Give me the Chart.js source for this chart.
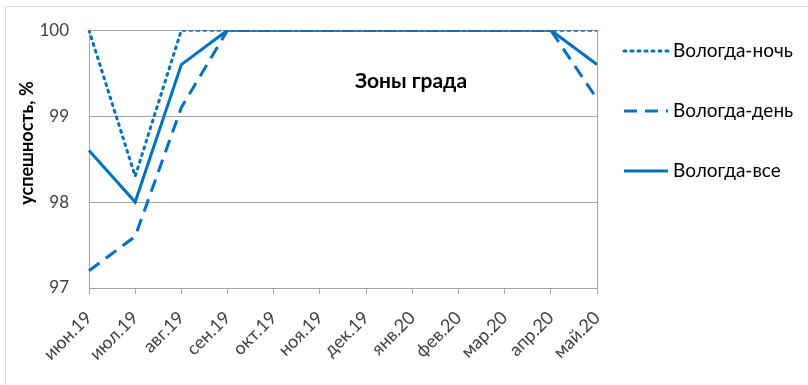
<!DOCTYPE html>
<html lang="ru">
<head>
<meta charset="UTF-8">
<title>Зоны града</title>
<style>
  body { margin: 0; background: #fff; }
  #frame { position: absolute; left: 5px; top: 6px; width: 820px; height: 400px; border: 1px solid #d9d9d9; }
  #wrap { position: absolute; left: 0; top: 0; width: 808px; height: 385px; }
</style>
</head>
<body>
<div id="frame"></div>
<div id="wrap"><canvas id="myChart"></canvas></div>

<script src="https://cdn.jsdelivr.net/npm/chart.js"></script>
<script>
  // данные с графика
  const months = ['июн.19', 'июл.19', 'авг.19', 'сен.19', 'окт.19', 'ноя.19', 'дек.19',
                  'янв.20', 'фев.20', 'мар.20', 'апр.20', 'май.20'];
  const nightVals = [100, 98.3, 100, 100, 100, 100, 100, 100, 100, 100, 100, 100];
  const dayVals   = [97.2, 97.6, 99.1, 100, 100, 100, 100, 100, 100, 100, 100, 99.2];
  const allVals   = [98.6, 98.0, 99.6, 100, 100, 100, 100, 100, 100, 100, 100, 99.6];
  const yTicks = [97, 98, 99, 100];

  const blue = '#0070C0';
  const font = 'Lato, "Open Sans", sans-serif';

  // подпись оси, заголовок, легенда, правая рамка
  const extras = {
    id: 'extras',
    afterDraw(chart) {
      const c = chart.ctx;
      const a = chart.chartArea;
      c.save();
      c.strokeStyle = '#a6a6a6';
      c.lineWidth = 1;
      c.beginPath();
      c.moveTo(Math.round(a.right) + 0.5, a.top);
      c.lineTo(Math.round(a.right) + 0.5, a.bottom);
      c.stroke();

      c.fillStyle = '#000';
      c.font = 'bold 21px ' + font;
      c.textAlign = 'center';
      c.textBaseline = 'middle';
      c.fillText('Зоны града', 411, 81);

      c.translate(27, 143);
      c.rotate(-Math.PI / 2);
      c.font = 'bold 18px ' + font;
      c.fillText('успешность, %', 0, 0);
      c.restore();

      // легенда
      c.save();
      chart.data.datasets.forEach((ds, i) => {
        const y = 51 + i * 60;
        c.strokeStyle = ds.borderColor;
        c.lineWidth = 3;
        c.lineCap = ds.borderCapStyle || 'butt';
        c.setLineDash(ds.borderDash || []);
        c.beginPath();
        c.moveTo(624, y);
        c.lineTo(668, y);
        c.stroke();
        c.fillStyle = '#000';
        c.font = '19px ' + font;
        c.textAlign = 'left';
        c.textBaseline = 'middle';
        c.fillText(ds.label, 673, y);
      });
      c.restore();
    }
  };

  new Chart(document.getElementById('myChart'), {
    type: 'line',
    data: {
      labels: months,
      datasets: [
        { label: 'Вологда-ночь', data: nightVals, borderColor: blue, borderWidth: 3,
          borderDash: [2, 5], borderCapStyle: 'round', pointRadius: 0, tension: 0 },
        { label: 'Вологда-день', data: dayVals, borderColor: blue, borderWidth: 3,
          borderDash: [13, 8], pointRadius: 0, tension: 0 },
        { label: 'Вологда-все', data: allVals, borderColor: blue, borderWidth: 3,
          pointRadius: 0, tension: 0 }
      ]
    },
    options: {
      responsive: true,
      maintainAspectRatio: false,
      animation: false,
      layout: { padding: { left: 0, top: 27, right: 211, bottom: 0 } },
      plugins: { legend: { display: false }, tooltip: { enabled: false } },
      scales: {
        x: {
          offset: false,
          grid: { drawOnChartArea: false, drawTicks: true, tickLength: 6, color: '#a6a6a6' },
          border: { color: '#a6a6a6' },
          ticks: { color: '#404040', font: { family: font, size: 18 },
                   minRotation: 45, maxRotation: 45, autoSkip: false, padding: 13 },
          afterFit(s) { s.height = 97; }
        },
        y: {
          min: 97, max: 100,
          afterBuildTicks(s) { s.ticks = yTicks.map(v => ({ value: v })); },
          grid: { color: '#a6a6a6', drawTicks: false },
          border: { color: '#a6a6a6' },
          ticks: { color: '#404040', font: { family: font, size: 17 }, padding: 20 },
          afterFit(s) { s.width = 89; }
        }
      }
    },
    plugins: [extras]
  });
</script>
</body>
</html>
